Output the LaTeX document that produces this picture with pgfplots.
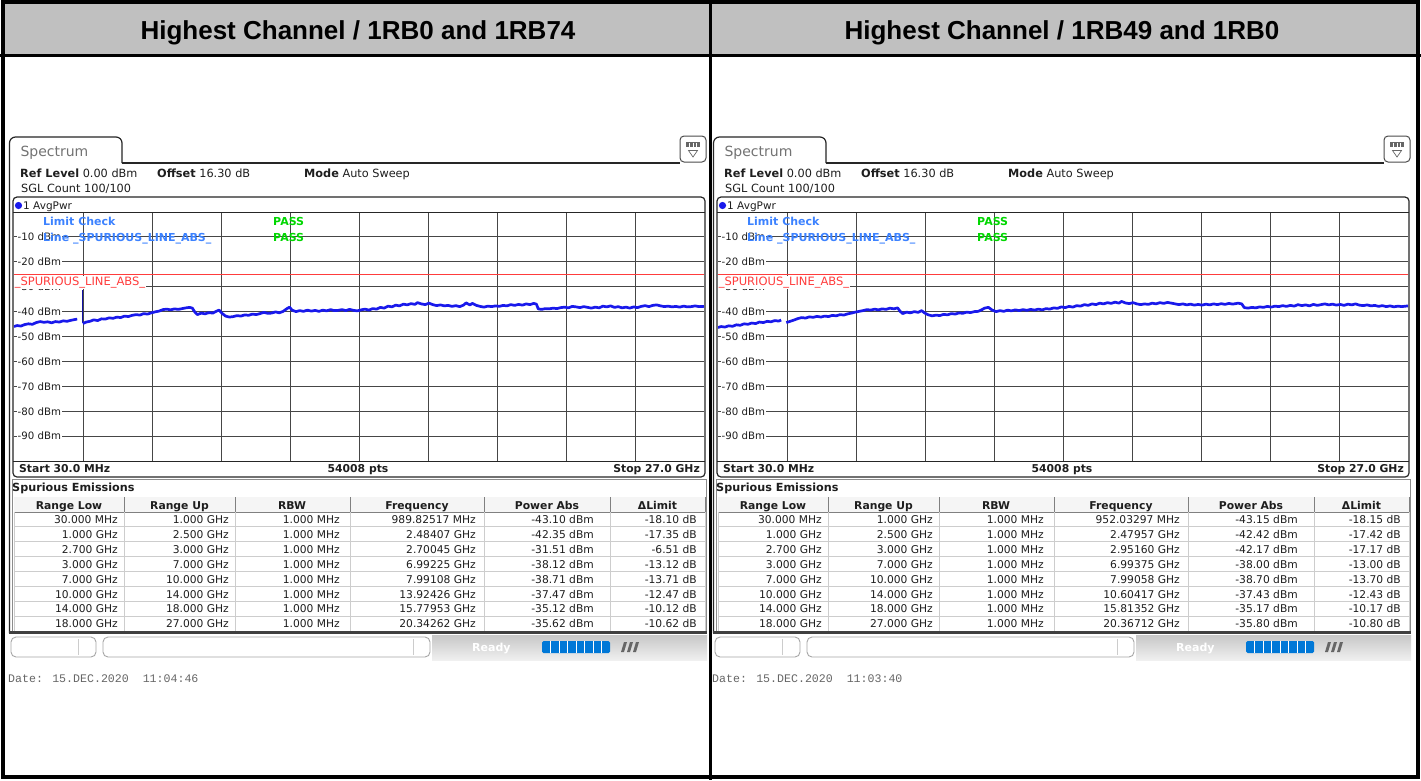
\documentclass[border=0pt]{standalone}
\usepackage{pgfplots}
\pgfplotsset{compat=1.18}
\usepackage{fontspec}
\setmainfont{DejaVu Sans}
\newfontfamily\hdrfont{Liberation Sans}
\newfontfamily\datefont{Liberation Mono}
\definecolor{trace}{RGB}{25,25,235}
\definecolor{lblue}{RGB}{60,130,255}
\definecolor{lgreen}{RGB}{0,215,0}
\definecolor{lred}{RGB}{255,60,60}
\definecolor{hdrgray}{RGB}{192,192,192}
\definecolor{gridc}{RGB}{70,70,70}
\definecolor{txt}{RGB}{30,30,30}
\definecolor{tline}{RGB}{205,205,205}
\definecolor{pbar}{RGB}{0,120,215}
\newcommand{\fs}[1]{\fontsize{#1}{#1}\selectfont}

\newcommand{\panelback}[2]{%
\begin{scope}[xshift=#1pt]
\fill[hdrgray] (4,0) rectangle (714,55);
\node[font=\hdrfont\bfseries\fs{26}, anchor=base] at (358,39.5) {#2};
\draw[black!85, line width=1.2pt, rounded corners=6pt] (9.5,633) -- (9.5,137) -- (122,137) -- (122,163);
\draw[black!85, line width=1.2pt] (122,163) -- (680,163);
\draw[black!70, line width=1pt, rounded corners=4pt] (680,136) rectangle (706,162);
\fill[black!60] (686,142) rectangle (700,147);
\foreach \xx in {689.5,693,696.5} \draw[white, line width=0.6pt] (\xx,142.5) -- (\xx,146.5);
\draw[black!60, line width=0.7pt] (688.5,150.5) -- (697.5,150.5) -- (693,157) -- cycle;
\node[text=black!55, font=\fs{14}, anchor=base west] at (17,156) {Spectrum};
\node[anchor=base west, font=\fs{11.3}, text=txt, inner sep=0pt] at (20,177) {\textbf{Ref Level}\ 0.00 dBm};
\node[anchor=base west, font=\fs{11.3}, text=txt, inner sep=0pt] at (157,177) {\textbf{Offset}\ 16.30 dB};
\node[anchor=base west, font=\fs{11.3}, text=txt, inner sep=0pt] at (304,177) {\textbf{Mode}\ Auto Sweep};
\node[anchor=base west, font=\fs{11.3}, text=txt, inner sep=0pt] at (21,192) {SGL Count 100/100};
\draw[black!85, line width=1.2pt, rounded corners=4pt] (13,197) rectangle (705,477);
\end{scope}}

\newcommand{\trow}[7]{%
\pgfmathsetmacro\yb{523.5+14.9*#1}%
\node[anchor=base east] at (118,\yb) {#2};
\node[anchor=base east] at (229,\yb) {#3};
\node[anchor=base east] at (340,\yb) {#4};
\node[anchor=base east] at (476,\yb) {#5};
\node[anchor=base east] at (594,\yb) {#6};
\node[anchor=base east] at (697,\yb) {#7};}

\newcommand{\panelfront}[2]{%
\begin{scope}[xshift=#1pt]
\draw[black!85, line width=1pt] (13,212) -- (705,212);
\draw[black!85, line width=1pt] (13,461) -- (705,461);
\fill[trace] (18.5,205.5) circle (3.6);
\node[anchor=base west, font=\fs{10.5}, text=txt, inner sep=0pt] at (23,209) {1 AvgPwr};
\foreach \v/\yy in {10/236.9,20/261.8,30/286.7,40/311.6,50/336.5,60/361.4,70/386.3,80/411.2,90/436.1}
  \node[anchor=west, fill=white, inner sep=1pt, font=\fs{10.2}, text=txt] at (16.5,\yy) {-\v\ dBm};
\node[anchor=base west, fill=white, inner sep=0.6pt, font=\fs{11.5}, text=lred] at (14,285.5) {\_SPURIOUS\_LINE\_ABS\_};
\node[anchor=base west, font=\bfseries\fs{11}, text=lblue, inner sep=0pt] at (43,225) {Limit Check};
\node[anchor=base west, font=\bfseries\fs{11}, text=lblue, inner sep=0pt] at (43,241) {Line \_SPURIOUS\_LINE\_ABS\_};
\node[anchor=base west, font=\bfseries\fs{11}, text=lgreen, inner sep=0pt] at (273,225) {PASS};
\node[anchor=base west, font=\bfseries\fs{11}, text=lgreen, inner sep=0pt] at (273,241) {PASS};
\node[anchor=base west, font=\bfseries\fs{10.8}, text=txt, inner sep=0pt] at (19,472) {Start 30.0 MHz};
\node[anchor=base, font=\bfseries\fs{10.8}, text=txt, inner sep=0pt] at (358,472) {54008 pts};
\node[anchor=base east, font=\bfseries\fs{10.8}, text=txt, inner sep=0pt] at (700,472) {Stop 27.0 GHz};
% spurious table
\draw[black!45, line width=0.8pt] (12,479) rectangle (706,632);
\node[anchor=base west, font=\bfseries\fs{11.2}, text=txt, inner sep=0pt] at (12,491) {Spurious Emissions};
\fill[black!4] (14,497) rectangle (705,512);
\foreach \k in {0,...,8} \draw[tline, line width=0.9pt] (14,{512+14.9*\k}) -- (705,{512+14.9*\k});
\draw[black!50, line width=0.9pt] (14,512) -- (705,512);
\foreach \xx in {14,124,235,350,484,610,705} \draw[tline, line width=0.9pt] (\xx,512) -- (\xx,631);
\foreach \xx in {124,235,350,484,610,705} \draw[black!50, line width=0.9pt] (\xx,497) -- (\xx,512);
\begin{scope}[font=\bfseries\fs{10.8}, text=txt, inner sep=0pt]
\node[anchor=base] at (69,509) {Range Low};
\node[anchor=base] at (179.5,509) {Range Up};
\node[anchor=base] at (292,509) {RBW};
\node[anchor=base] at (417,509) {Frequency};
\node[anchor=base] at (547,509) {Power Abs};
\node[anchor=base] at (657.5,509) {ΔLimit};
\end{scope}
\draw[black!75, line width=3pt] (9,632.5) -- (707,632.5);
% status bar
\shade[top color=black!22, bottom color=black!6] (432,635) rectangle (707,660);
\draw[black!35, fill=white, line width=0.9pt, rounded corners=5pt] (11,637) rectangle (96,657);
\draw[black!20, line width=0.8pt] (78,639) -- (78,655);
\draw[black!35, fill=white, line width=0.9pt, rounded corners=5pt] (103,637) rectangle (430,657);
\draw[black!20, line width=0.8pt] (413,639) -- (413,655);
\node[anchor=base west, font=\bfseries\fs{11}, text=white, inner sep=0pt] at (472,651) {Ready};
\fill[pbar, rounded corners=1.5pt] (542,641) rectangle (610,653);
\foreach \xx in {550.5,559,567.5,576,584.5,593,601.5} \draw[white, line width=0.8pt] (\xx,641) -- (\xx,653);
\foreach \xx in {621,627,633} \fill[black!60] (\xx,652) -- (\xx+3,652) -- (\xx+6,642) -- (\xx+3,642) -- cycle;
\node[anchor=base west, font=\datefont\fs{11.6}, text=black!60, inner sep=0pt] at (8,682) {#2};
\end{scope}}

\pgfplotsset{spec/.style={anchor=south west, width=690pt, height=249pt, scale only axis,
  xmin=0.03, xmax=27, ymin=-100, ymax=0,
  xtick={2.727,5.424,8.121,10.818,13.515,16.212,18.909,21.606,24.303},
  ytick={-90,-80,-70,-60,-50,-40,-30,-20,-10},
  xticklabels={}, yticklabels={}, grid=major,
  major grid style={gridc, line width=0.9pt},
  major tick length=0pt, axis line style={draw=none}, clip=true},
  tr/.style={trace, line width=2.7pt, line join=round}}

\begin{document}
\begin{tikzpicture}[x=1pt, y=-1pt]
\useasboundingbox (0,0) rectangle (1421,780);
\fill[white] (0,0) rectangle (1421,780);
\panelback{0}{Highest Channel / 1RB0 and 1RB74}
\panelback{704}{Highest Channel / 1RB49 and 1RB0}

\begin{axis}[spec, at={(14pt,-461pt)}]
\addplot[lred, line width=0.9pt] coordinates {(0.03,-25) (27,-25)};
\addplot[tr] coordinates {(0.03,-46.0) (0.15,-45.6) (0.3,-45.8) (0.45,-45.2) (0.6,-44.9) (0.75,-45.1) (0.9,-44.4) (1.05,-44.0) (1.2,-44.3) (1.35,-44.1) (1.5,-44.5) (1.65,-44.0) (1.8,-44.2) (1.95,-43.7) (2.1,-43.9) (2.25,-43.5) (2.4,-43.2) (2.5,-43.0)};
\addplot[trace!70!black, line width=1pt] coordinates {(2.70,-44.6) (2.70,-31.5)};
\addplot[tr] coordinates {(2.72,-44.8) (2.85,-44.2) (3.0,-43.9) (3.15,-43.3) (3.3,-43.6) (3.45,-42.9) (3.6,-43.0) (3.75,-42.5) (3.9,-42.7) (4.05,-42.2) (4.2,-42.4) (4.35,-41.8) (4.5,-42.0) (4.65,-41.5) (4.8,-41.2) (4.95,-41.4) (5.1,-40.8) (5.25,-41.0) (5.4,-40.5) (5.55,-40.1) (5.7,-39.8) (5.85,-39.2) (6.0,-39.0) (6.15,-39.3) (6.3,-38.9) (6.45,-39.1) (6.6,-38.8) (6.75,-38.5) (6.9,-38.3) (7.0,-38.6) (7.1,-40.2) (7.2,-41.2) (7.35,-40.6) (7.5,-40.9) (7.65,-40.4) (7.8,-40.6) (7.95,-39.8) (8.05,-39.4) (8.15,-40.6) (8.3,-41.8) (8.45,-42.2) (8.6,-42.0) (8.75,-41.6) (8.9,-41.8) (9.05,-41.3) (9.2,-41.5) (9.35,-41.0) (9.5,-41.2) (9.65,-40.8) (9.8,-40.3) (9.95,-40.7) (10.1,-40.6) (10.25,-40.1) (10.4,-40.5) (10.55,-39.9) (10.7,-38.8) (10.8,-38.2) (10.9,-39.4) (11.05,-40.0) (11.2,-39.6) (11.35,-39.9) (11.5,-39.4) (11.65,-39.8) (11.8,-39.5) (11.95,-39.9) (12.1,-39.4) (12.25,-39.7) (12.4,-39.2) (12.55,-39.6) (12.7,-39.5) (12.85,-39.2) (13.0,-39.6) (13.15,-39.1) (13.3,-39.5) (13.45,-39.7) (13.6,-39.3) (13.75,-39.0) (13.9,-39.4) (14.05,-38.8) (14.2,-39.0) (14.35,-38.3) (14.5,-38.6) (14.65,-37.8) (14.8,-38.1) (14.95,-37.4) (15.1,-37.7) (15.25,-37.0) (15.4,-37.3) (15.55,-36.8) (15.7,-37.1) (15.8,-36.4) (15.95,-36.9) (16.1,-37.2) (16.25,-36.6) (16.4,-37.2) (16.55,-37.6) (16.7,-37.3) (16.85,-37.7) (17.0,-37.5) (17.15,-37.9) (17.3,-37.6) (17.45,-38.0) (17.6,-37.4) (17.7,-36.5) (17.85,-37.3) (17.95,-36.7) (18.1,-37.5) (18.25,-37.9) (18.4,-38.2) (18.55,-37.8) (18.7,-38.0) (18.85,-37.7) (19.0,-37.9) (19.15,-37.5) (19.3,-37.7) (19.45,-37.2) (19.6,-37.5) (19.75,-37.1) (19.9,-37.4) (20.05,-36.9) (20.2,-37.2) (20.34,-36.7) (20.45,-37.0) (20.52,-38.9) (20.65,-39.1) (20.8,-38.8) (20.95,-38.9) (21.1,-38.6) (21.25,-38.8) (21.4,-38.4) (21.55,-38.2) (21.7,-38.5) (21.85,-37.9) (22.0,-38.1) (22.15,-38.4) (22.3,-38.0) (22.45,-38.3) (22.6,-38.6) (22.75,-38.2) (22.9,-38.5) (23.05,-37.8) (23.2,-38.1) (23.35,-37.7) (23.5,-38.3) (23.65,-38.0) (23.8,-38.5) (23.95,-38.2) (24.1,-38.6) (24.25,-38.1) (24.4,-38.4) (24.55,-37.9) (24.7,-37.6) (24.85,-38.0) (25.0,-37.5) (25.15,-37.3) (25.3,-37.7) (25.45,-38.0) (25.6,-37.8) (25.75,-38.1) (25.9,-37.9) (26.05,-38.2) (26.2,-37.8) (26.35,-38.1) (26.5,-38.0) (26.65,-37.7) (26.8,-38.0) (27.0,-37.9)};
\end{axis}

\begin{axis}[spec, at={(718pt,-461pt)}]
\addplot[lred, line width=0.9pt] coordinates {(0.03,-25) (27,-25)};
\addplot[tr] coordinates {(0.03,-46.4) (0.15,-46.0) (0.3,-46.2) (0.45,-45.7) (0.6,-45.9) (0.75,-45.3) (0.9,-45.5) (1.05,-44.9) (1.2,-45.1) (1.35,-44.6) (1.5,-44.8) (1.65,-44.2) (1.8,-44.4) (1.95,-43.9) (2.1,-44.1) (2.25,-43.6) (2.4,-43.8) (2.5,-43.4)};
\addplot[tr] coordinates {(2.70,-44.4) (2.85,-43.9) (3.0,-43.4) (3.15,-42.8) (3.3,-42.4) (3.45,-42.6) (3.6,-42.1) (3.75,-42.3) (3.9,-41.9) (4.05,-42.2) (4.2,-41.8) (4.35,-42.0) (4.5,-41.5) (4.65,-41.7) (4.8,-41.2) (4.95,-41.4) (5.1,-40.9) (5.25,-40.6) (5.4,-40.2) (5.55,-39.9) (5.7,-39.6) (5.85,-39.2) (6.0,-39.4) (6.15,-39.0) (6.3,-39.3) (6.45,-38.9) (6.6,-39.1) (6.75,-38.6) (6.9,-38.9) (7.05,-38.5) (7.15,-39.9) (7.25,-40.8) (7.4,-40.2) (7.55,-40.5) (7.7,-40.0) (7.85,-40.3) (7.99,-39.6) (8.1,-40.5) (8.25,-41.3) (8.4,-41.7) (8.55,-41.4) (8.7,-41.6) (8.85,-41.1) (9.0,-41.3) (9.15,-40.8) (9.3,-41.0) (9.45,-40.5) (9.6,-40.7) (9.75,-40.2) (9.9,-40.4) (10.05,-40.0) (10.2,-39.9) (10.35,-39.2) (10.45,-38.6) (10.6,-38.3) (10.75,-39.4) (10.9,-40.0) (11.05,-39.6) (11.2,-39.9) (11.35,-39.4) (11.5,-39.7) (11.65,-39.3) (11.8,-39.6) (11.95,-39.2) (12.1,-39.5) (12.25,-39.1) (12.4,-39.4) (12.55,-39.0) (12.7,-39.3) (12.85,-38.8) (13.0,-39.0) (13.15,-38.5) (13.3,-38.7) (13.45,-38.1) (13.6,-38.4) (13.75,-37.9) (13.9,-38.2) (14.05,-37.6) (14.2,-37.8) (14.35,-37.2) (14.5,-37.5) (14.65,-36.9) (14.8,-37.2) (14.95,-36.6) (15.1,-36.9) (15.25,-36.4) (15.4,-36.7) (15.55,-36.2) (15.7,-36.6) (15.8,-35.9) (15.95,-36.5) (16.1,-36.8) (16.25,-36.4) (16.4,-36.9) (16.55,-37.2) (16.7,-36.9) (16.85,-37.1) (17.0,-36.6) (17.15,-36.9) (17.3,-36.4) (17.45,-36.7) (17.6,-36.3) (17.75,-36.6) (17.9,-36.9) (18.05,-37.2) (18.2,-36.9) (18.35,-37.3) (18.5,-37.0) (18.65,-37.4) (18.8,-37.1) (18.95,-37.4) (19.1,-37.0) (19.25,-37.3) (19.4,-36.9) (19.55,-37.2) (19.7,-36.8) (19.85,-37.1) (20.0,-36.7) (20.15,-37.0) (20.36,-36.6) (20.5,-36.9) (20.6,-38.4) (20.75,-38.6) (20.9,-38.3) (21.05,-38.5) (21.2,-38.1) (21.35,-38.3) (21.5,-37.9) (21.65,-38.2) (21.8,-37.8) (21.95,-38.0) (22.1,-37.6) (22.25,-37.9) (22.4,-37.5) (22.55,-37.8) (22.7,-37.2) (22.85,-37.6) (23.0,-37.3) (23.15,-37.7) (23.3,-37.1) (23.45,-37.5) (23.6,-37.2) (23.75,-36.9) (23.9,-37.3) (24.05,-37.0) (24.2,-37.4) (24.35,-37.1) (24.5,-37.5) (24.65,-37.0) (24.8,-37.3) (24.95,-36.9) (25.1,-37.4) (25.25,-37.6) (25.4,-37.3) (25.55,-37.7) (25.7,-37.5) (25.85,-37.9) (26.0,-37.6) (26.15,-38.0) (26.3,-37.7) (26.45,-38.1) (26.6,-37.8) (26.75,-38.0) (27.0,-37.7)};
\end{axis}

\panelfront{0}{Date: 15.DEC.2020\ \ 11:04:46}
\begin{scope}[font=\fs{10.7}, text=txt, inner sep=0pt]
\trow{0}{30.000 MHz}{1.000 GHz}{1.000 MHz}{989.82517 MHz}{-43.10 dBm}{-18.10 dB}
\trow{1}{1.000 GHz}{2.500 GHz}{1.000 MHz}{2.48407 GHz}{-42.35 dBm}{-17.35 dB}
\trow{2}{2.700 GHz}{3.000 GHz}{1.000 MHz}{2.70045 GHz}{-31.51 dBm}{-6.51 dB}
\trow{3}{3.000 GHz}{7.000 GHz}{1.000 MHz}{6.99225 GHz}{-38.12 dBm}{-13.12 dB}
\trow{4}{7.000 GHz}{10.000 GHz}{1.000 MHz}{7.99108 GHz}{-38.71 dBm}{-13.71 dB}
\trow{5}{10.000 GHz}{14.000 GHz}{1.000 MHz}{13.92426 GHz}{-37.47 dBm}{-12.47 dB}
\trow{6}{14.000 GHz}{18.000 GHz}{1.000 MHz}{15.77953 GHz}{-35.12 dBm}{-10.12 dB}
\trow{7}{18.000 GHz}{27.000 GHz}{1.000 MHz}{20.34262 GHz}{-35.62 dBm}{-10.62 dB}
\end{scope}
\panelfront{704}{Date: 15.DEC.2020\ \ 11:03:40}
\begin{scope}[xshift=704pt, font=\fs{10.7}, text=txt, inner sep=0pt]
\trow{0}{30.000 MHz}{1.000 GHz}{1.000 MHz}{952.03297 MHz}{-43.15 dBm}{-18.15 dB}
\trow{1}{1.000 GHz}{2.500 GHz}{1.000 MHz}{2.47957 GHz}{-42.42 dBm}{-17.42 dB}
\trow{2}{2.700 GHz}{3.000 GHz}{1.000 MHz}{2.95160 GHz}{-42.17 dBm}{-17.17 dB}
\trow{3}{3.000 GHz}{7.000 GHz}{1.000 MHz}{6.99375 GHz}{-38.00 dBm}{-13.00 dB}
\trow{4}{7.000 GHz}{10.000 GHz}{1.000 MHz}{7.99058 GHz}{-38.70 dBm}{-13.70 dB}
\trow{5}{10.000 GHz}{14.000 GHz}{1.000 MHz}{10.60417 GHz}{-37.43 dBm}{-12.43 dB}
\trow{6}{14.000 GHz}{18.000 GHz}{1.000 MHz}{15.81352 GHz}{-35.17 dBm}{-10.17 dB}
\trow{7}{18.000 GHz}{27.000 GHz}{1.000 MHz}{20.36712 GHz}{-35.80 dBm}{-10.80 dB}
\end{scope}

\draw[black, line width=4pt] (3,2) rectangle (1418,777);
\draw[black, line width=3pt] (710,0) -- (710,780);
\draw[black, line width=3pt] (0,55) -- (1421,55);
\end{tikzpicture}
\end{document}
